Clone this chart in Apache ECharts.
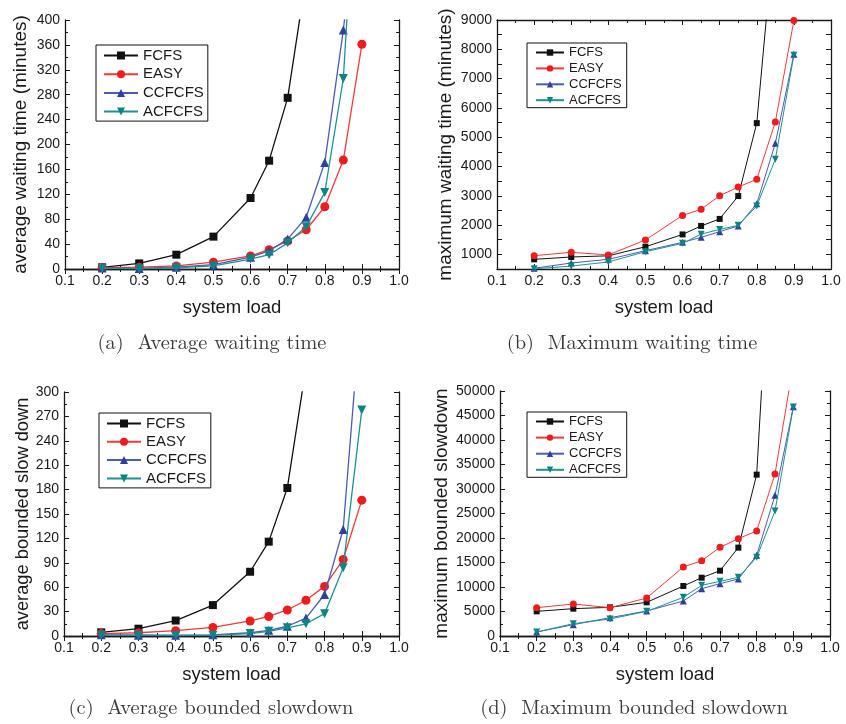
<!DOCTYPE html>
<html>
<head>
<meta charset="utf-8">
<script src="https://cdn.jsdelivr.net/npm/echarts@6/dist/echarts.min.js"></script>
<style>
  html, body { margin: 0; padding: 0; background: #fff; }
  #chart { width: 846px; height: 724px; }
</style>
</head>
<body>
<div id="chart"></div>
<script>
// System load levels tested
const loads = [0.2, 0.3, 0.4, 0.5, 0.6, 0.65, 0.7, 0.75, 0.8, 0.85, 0.9];
const xTicks = [0.1, 0.2, 0.3, 0.4, 0.5, 0.6, 0.7, 0.8, 0.9, 1.0];
const schedulers = ['FCFS', 'EASY', 'CCFCFS', 'ACFCFS'];

// (a) average waiting time (minutes)
const avgWaitFCFS   = [2.7, 9, 23, 52, 114, 174, 275, 470];
const avgWaitEASY   = [2, 3, 5, 11, 21, 31, 45, 63, 100, 175, 361];
const avgWaitCCFCFS = [1.5, 1, 3, 7, 19, 29, 48, 83, 171, 384, 650];
const avgWaitACFCFS = [1, 0.5, 2, 5, 16, 23, 42, 68, 123, 306, 800];

// (b) maximum waiting time (minutes)
const maxWaitFCFS   = [830, 910, 950, 1260, 1680, 1970, 2210, 2990, 5480, 12400];
const maxWaitEASY   = [955, 1070, 980, 1490, 2330, 2540, 3000, 3300, 3560, 5520, 8980];
const maxWaitCCFCFS = [525, 705, 830, 1125, 1410, 1580, 1775, 1970, 2730, 4790, 7830];
const maxWaitACFCFS = [505, 600, 740, 1090, 1375, 1690, 1850, 1990, 2650, 4250, 7800];

// (c) average bounded slowdown
const avgSlowFCFS   = [4.5, 9, 19, 38, 79, 116, 182, 330];
const avgSlowEASY   = [3, 4, 6.5, 10.6, 18.5, 24, 32, 44, 61, 94, 167];
const avgSlowCCFCFS = [1.5, 1, 1, 1.5, 4, 7, 12, 22, 51, 131, 416];
const avgSlowACFCFS = [1, 1, 0.5, 1, 3, 5.7, 10, 15, 27.5, 84, 278];

// (d) maximum bounded slowdown
const maxSlowFCFS   = [5030, 5580, 5850, 6870, 10200, 11900, 13330, 18030, 32930, 98000];
const maxSlowEASY   = [5780, 6530, 5780, 7760, 14080, 15370, 18100, 19860, 21430, 33060, 55460];
const maxSlowCCFCFS = [816, 2310, 3740, 5100, 7140, 9660, 10680, 11630, 16460, 28700, 46800];
const maxSlowACFCFS = [816, 2520, 3470, 5030, 7890, 10340, 11160, 11970, 16050, 25510, 46730];

// y-axis ranges and tick labels
const yAvgWait = { min: 0, max: 400, interval: 40 };
const yMaxWait = { min: 500, max: 9000, interval: 500, labels: [1000, 2000, 3000, 4000, 5000, 6000, 7000, 8000, 9000] };
const yAvgSlow = { min: 0, max: 300, interval: 30 };
const yMaxSlow = { min: 0, max: 50000, interval: 5000 };

const SANS = '"Liberation Sans", Arial, sans-serif';
const SERIF = '"Latin Modern Roman", "DejaVu Serif", serif';
const INK = '#1a1a1a';

const styles = {
  FCFS:   { color: '#111111', line: '#111111', symbol: 'rect' },
  EASY:   { color: '#ee1c1c', line: '#f03a3a', symbol: 'circle' },
  CCFCFS: { color: '#2f3f9e', line: '#4a5cb4', symbol: 'triangle' },
  ACFCFS: { color: '#0c8484', line: '#1d9292', symbol: 'path://M0,0 L10,0 L5,9 Z' }
};

const panels = [
  { grid: { left: 65, top: 20, width: 334, height: 249 }, y: yAvgWait,
    yName: 'average waiting time (minutes)', yFont: 19, yGap: 35, xGap: 29,
    data: [avgWaitFCFS, avgWaitEASY, avgWaitCCFCFS, avgWaitACFCFS],
    legend: { left: 96, top: 45, font: 15, itemGap: 3.7, iw: 34, ih: 10, pad: [3, 4, 2, 7] },
    lw: 1.3, sym: 9,
    caption: { text: '(a)  Average waiting time', x: 212, y: 343 } },
  { grid: { left: 497, top: 20, width: 334, height: 249 }, y: yMaxWait,
    yName: 'maximum waiting time (minutes)', yFont: 19, yGap: 42, xGap: 29,
    data: [maxWaitFCFS, maxWaitEASY, maxWaitCCFCFS, maxWaitACFCFS],
    legend: { left: 527, top: 43, font: 13, itemGap: 2.9, iw: 28, ih: 8, pad: [3, 5, 1, 8] },
    lw: 1, sym: 7,
    caption: { text: '(b)  Maximum waiting time', x: 632, y: 343 } },
  { grid: { left: 64, top: 392, width: 335, height: 244 }, y: yAvgSlow,
    yName: 'average bounded slow down', yFont: 18.3, yGap: 31, xGap: 29,
    data: [avgSlowFCFS, avgSlowEASY, avgSlowCCFCFS, avgSlowACFCFS],
    legend: { left: 99, top: 413, font: 15, itemGap: 3.3, iw: 34, ih: 10, pad: [3, 4, 2, 7] },
    lw: 1.3, sym: 9,
    caption: { text: '(c)  Average bounded slowdown', x: 211, y: 708 } },
  { grid: { left: 500, top: 391, width: 330, height: 245 }, y: yMaxSlow,
    yName: 'maximum bounded slowdown', yFont: 19, yGap: 49, xGap: 29,
    data: [maxSlowFCFS, maxSlowEASY, maxSlowCCFCFS, maxSlowACFCFS],
    legend: { left: 527, top: 412, font: 13, itemGap: 3.1, iw: 28, ih: 8, pad: [3, 5, 1, 8] },
    lw: 1, sym: 7,
    caption: { text: '(d)  Maximum bounded slowdown', x: 634, y: 708 } }
];

const option = {
  animation: false,
  backgroundColor: '#ffffff',
  grid: [], xAxis: [], yAxis: [], series: [], legend: [], graphic: []
};

const axisLine = { show: true, lineStyle: { color: INK, width: 1.3 } };
const majorTick = { show: true, inside: true, length: 5, lineStyle: { color: INK, width: 1 } };
const minorTick = { show: true, splitNumber: 2, length: 3, lineStyle: { color: INK, width: 1 } };

panels.forEach((p, i) => {
  option.grid.push(Object.assign({ containLabel: false }, p.grid));

  const xBase = { gridIndex: i, type: 'value', min: xTicks[0], max: xTicks[xTicks.length - 1],
    interval: 0.1, axisLine, axisTick: majorTick, minorTick, splitLine: { show: false } };
  option.xAxis.push(Object.assign({}, xBase, {
    position: 'bottom',
    axisLabel: { fontFamily: SANS, fontSize: 14, color: INK, margin: 5,
      formatter: v => Number(v).toFixed(1) },
    name: 'system load', nameLocation: 'middle', nameGap: p.xGap,
    nameTextStyle: { fontFamily: SANS, fontSize: 18.5, color: INK }
  }));
  option.xAxis.push(Object.assign({}, xBase, { position: 'top', axisLabel: { show: false } }));

  const yb = p.y;
  const labelFmt = yb.labels ? (v => (yb.labels.indexOf(v) >= 0 ? String(v) : '')) : (v => String(v));
  const yBase = { gridIndex: i, type: 'value', min: yb.min, max: yb.max, interval: yb.interval,
    axisLine, axisTick: majorTick, splitLine: { show: false },
    minorTick: yb.labels ? { show: false } : minorTick };
  option.yAxis.push(Object.assign({}, yBase, {
    position: 'left',
    axisLabel: { fontFamily: SANS, fontSize: 14, color: INK, margin: 5, formatter: labelFmt },
    name: p.yName, nameLocation: 'middle', nameGap: p.yGap,
    nameTextStyle: { fontFamily: SANS, fontSize: p.yFont, color: INK }
  }));
  option.yAxis.push(Object.assign({}, yBase, { position: 'right', axisLabel: { show: false } }));

  schedulers.forEach((name, k) => {
    const st = styles[name];
    option.series.push({
      name, type: 'line', xAxisIndex: 2 * i, yAxisIndex: 2 * i,
      data: p.data[k].map((v, j) => [loads[j], v]),
      symbol: st.symbol, symbolSize: st.symbol === 'rect' ? p.sym - 1 : p.sym,
      showSymbol: true, clip: true,
      itemStyle: { color: st.color },
      lineStyle: { color: st.line, width: p.lw },
      z: 2 + k
    });
  });

  option.legend.push({
    orient: 'vertical', left: p.legend.left, top: p.legend.top,
    data: schedulers,
    itemWidth: p.legend.iw, itemHeight: p.legend.ih, itemGap: p.legend.itemGap,
    padding: p.legend.pad,
    borderColor: '#111', borderWidth: 1, backgroundColor: '#fff',
    selectedMode: false,
    textStyle: { fontFamily: SANS, fontSize: p.legend.font, color: INK }
  });

  option.graphic.push({
    type: 'text', x: p.caption.x, y: p.caption.y,
    style: { text: p.caption.text, font: '20.5px ' + SERIF, fill: '#3a3a3a',
      textAlign: 'center', textVerticalAlign: 'middle' }
  });
});

const chart = echarts.init(document.getElementById('chart'), null, { renderer: 'canvas' });
chart.setOption(option);
</script>
</body>
</html>
